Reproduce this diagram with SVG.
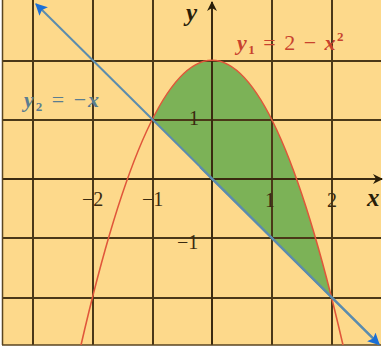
<svg xmlns="http://www.w3.org/2000/svg" width="383" height="349" viewBox="0 0 383 349">
<style>
.grid{stroke:#4a3818;stroke-width:2;fill:none}
.axis{stroke:#3a2a10;stroke-width:2;fill:none}
.num{font-family:"Liberation Serif",serif;font-size:20px;fill:#3a2a10}
.var{font-family:"Liberation Serif",serif;font-style:italic;font-weight:bold}
</style>
<defs>
<marker id="ax" viewBox="0 0 10 10" refX="9" refY="5" markerWidth="5" markerHeight="5" orient="auto" markerUnits="strokeWidth"><path d="M0,0 L10,5 L0,10 L3,5 Z" fill="#2a1e08"/></marker>
<marker id="bl" viewBox="0 0 10 10" refX="9" refY="5" markerWidth="6" markerHeight="6" orient="auto" markerUnits="strokeWidth"><path d="M0,0 L10,5 L0,10 L2,5 Z" fill="#1b6fd6"/></marker>
<clipPath id="c"><rect x="2" y="0" width="379" height="345"/></clipPath>
</defs>
<rect x="0" y="0" width="383" height="349" fill="#ffffff"/>
<rect x="2" y="0" width="379" height="345" fill="#fdd98b"/>
<g id="area" clip-path="url(#c)">
<path d="M152.2,119.6 Q241.9,-58.6 331.6,297.8 Z" fill="#7cb257"/>
</g>
<g id="grid" class="grid" clip-path="url(#c)">
<line x1="33" y1="0" x2="33" y2="345"/>
<line x1="93" y1="0" x2="93" y2="345"/>
<line x1="153" y1="0" x2="153" y2="345"/>
<line x1="272" y1="0" x2="272" y2="345"/>
<line x1="332" y1="0" x2="332" y2="345"/>
<line x1="2" y1="61" x2="381" y2="61"/>
<line x1="2" y1="120" x2="381" y2="120"/>
<line x1="2" y1="238" x2="381" y2="238"/>
<line x1="2" y1="298" x2="381" y2="298"/>
</g>
<g id="axes" class="axis">
<line x1="2" y1="179" x2="382" y2="179" marker-end="url(#ax)"/>
<line x1="212" y1="345" x2="212" y2="2" marker-end="url(#ax)"/>
</g>
<g id="frame" stroke="#5a4520" stroke-width="1.5" fill="none">
<line x1="2.5" y1="0" x2="2.5" y2="345"/>
<line x1="2" y1="345" x2="381" y2="345"/>
</g>
<g id="connectors" clip-path="url(#c)">
<path id="parabola" d="M80.4,347.7 Q212,-227.3 343.6,347.7" fill="none" stroke="#e0563a" stroke-width="1.6"/>
</g>
<g id="line">
<line x1="378" y1="343" x2="36" y2="4" stroke="#5b8cae" stroke-width="2" marker-end="url(#bl)"/>
<line x1="200" y1="167" x2="379" y2="344.5" stroke="#5b8cae" stroke-width="2" marker-end="url(#bl)"/>
</g>
<g id="labels">
<text class="var" x="186" y="21" font-size="25" fill="#2a1e08">y</text>
<text class="var" x="367" y="206" font-size="25" fill="#2a1e08">x</text>
<text x="237" y="50" font-family="Liberation Serif,serif" font-size="22" letter-spacing="1.5" fill="#c8432e"><tspan class="var">y</tspan><tspan font-size="13" dy="4" font-weight="bold">1</tspan><tspan dy="-4"> = 2 − </tspan><tspan class="var">x</tspan><tspan font-size="13" dy="-9" font-weight="bold">2</tspan></text>
<text x="24" y="107" font-family="Liberation Serif,serif" font-size="22" letter-spacing="2" fill="#5a7d90"><tspan class="var">y</tspan><tspan font-size="13" dy="4" font-weight="bold">2</tspan><tspan dy="-4"> = −</tspan><tspan class="var">x</tspan></text>
<text class="num" x="82" y="206">−2</text>
<text class="num" x="142" y="206">−1</text>
<text class="num" x="265" y="207">1</text>
<text class="num" x="327" y="207">2</text>
<text class="num" x="189" y="125">1</text>
<text class="num" x="177" y="249">−1</text>
</g>
</svg>
